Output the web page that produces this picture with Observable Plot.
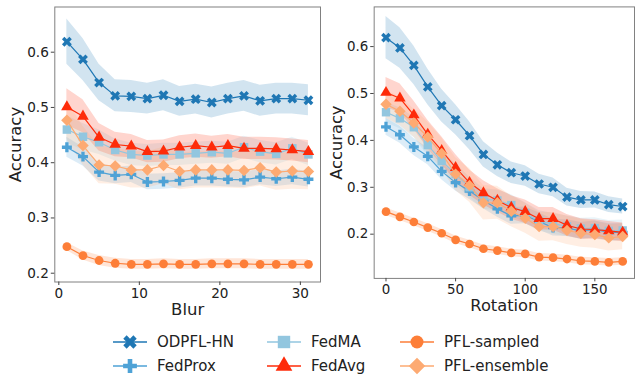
<!DOCTYPE html>
<html><head><meta charset="utf-8">
<script src="https://cdn.jsdelivr.net/npm/d3@7"></script>
<script src="https://cdn.jsdelivr.net/npm/@observablehq/plot@0.6"></script>
<style>
body{margin:0;background:#fff;overflow:hidden;font-family:"DejaVu Sans",sans-serif;}
#wrap{position:relative;width:635px;height:377px;overflow:hidden;background:#fff;}
#left{position:absolute;left:0;top:0;}
#right{position:absolute;left:325px;top:0;}
#legend{position:absolute;left:0;top:320px;width:635px;height:57px;}
.item{position:absolute;height:20px;display:flex;align-items:center;font-size:15px;color:#222;white-space:nowrap;}
.item svg{overflow:visible;}
</style></head><body>
<div id="wrap"><div id="left"></div><div id="right"></div><div id="legend"></div></div>
<script>
// ---------- data ----------
const series = ["ODPFL-HN", "FedProx", "FedMA", "FedAvg", "PFL-sampled", "PFL-ensemble"];
const colors = ["#1f77b4", "#4ea2d6", "#92c6df", "#fe2b09", "#fd7e38", "#fdaa72"];

const blurX = [1, 3, 5, 7, 9, 11, 13, 15, 17, 19, 21, 23, 25, 27, 29, 31];
const blurODPFL    = [0.619, 0.587, 0.545, 0.521, 0.520, 0.516, 0.522, 0.511, 0.515, 0.509, 0.516, 0.521, 0.512, 0.516, 0.516, 0.513];
const blurFedProx  = [0.428, 0.411, 0.383, 0.377, 0.379, 0.365, 0.366, 0.368, 0.372, 0.372, 0.370, 0.369, 0.374, 0.371, 0.374, 0.370];
const blurFedMA    = [0.460, 0.447, 0.437, 0.423, 0.415, 0.413, 0.415, 0.415, 0.417, 0.419, 0.417, 0.428, 0.420, 0.416, 0.426, 0.415];
const blurFedAvg   = [0.501, 0.484, 0.446, 0.433, 0.430, 0.420, 0.421, 0.428, 0.431, 0.428, 0.431, 0.426, 0.426, 0.425, 0.423, 0.420];
const blurSampled  = [0.248, 0.232, 0.223, 0.218, 0.216, 0.216, 0.217, 0.216, 0.216, 0.217, 0.217, 0.217, 0.216, 0.216, 0.216, 0.216];
const blurEnsemble = [0.477, 0.431, 0.396, 0.394, 0.387, 0.387, 0.395, 0.384, 0.387, 0.387, 0.387, 0.386, 0.391, 0.383, 0.385, 0.384];

const blurODPFLStd    = [0.041, 0.038, 0.033, 0.029, 0.029, 0.028, 0.028, 0.027, 0.027, 0.028, 0.028, 0.028, 0.028, 0.028, 0.028, 0.028];
const blurFedProxStd  = [0.018, 0.017, 0.016, 0.015, 0.015, 0.014, 0.014, 0.014, 0.014, 0.014, 0.014, 0.014, 0.014, 0.014, 0.014, 0.014];
const blurFedMAStd    = [0.025, 0.024, 0.022, 0.020, 0.020, 0.020, 0.020, 0.020, 0.020, 0.020, 0.020, 0.020, 0.020, 0.020, 0.020, 0.020];
const blurFedAvgStd   = [0.033, 0.030, 0.025, 0.022, 0.021, 0.020, 0.020, 0.021, 0.021, 0.020, 0.020, 0.020, 0.020, 0.020, 0.020, 0.020];
const blurSampledStd  = [0.007, 0.008, 0.009, 0.009, 0.009, 0.009, 0.009, 0.009, 0.009, 0.009, 0.009, 0.009, 0.009, 0.009, 0.009, 0.009];
const blurEnsembleStd = [0.035, 0.035, 0.034, 0.033, 0.033, 0.033, 0.033, 0.033, 0.033, 0.033, 0.033, 0.033, 0.033, 0.033, 0.033, 0.033];

const rotX = [0, 10, 20, 30, 40, 50, 60, 70, 80, 90, 100, 110, 120, 130, 140, 150, 160, 170];
const rotODPFL    = [0.619, 0.597, 0.560, 0.514, 0.474, 0.444, 0.410, 0.370, 0.348, 0.331, 0.324, 0.307, 0.300, 0.279, 0.273, 0.273, 0.263, 0.259];
const rotFedProx  = [0.429, 0.412, 0.386, 0.366, 0.334, 0.310, 0.292, 0.272, 0.254, 0.239, 0.240, 0.227, 0.214, 0.213, 0.207, 0.210, 0.204, 0.204];
const rotFedMA    = [0.460, 0.447, 0.428, 0.390, 0.356, 0.328, 0.300, 0.275, 0.272, 0.262, 0.245, 0.228, 0.222, 0.217, 0.212, 0.213, 0.207, 0.208];
const rotFedAvg   = [0.502, 0.490, 0.454, 0.413, 0.378, 0.342, 0.310, 0.288, 0.272, 0.257, 0.248, 0.233, 0.233, 0.219, 0.211, 0.210, 0.207, 0.204];
const rotSampled  = [0.248, 0.237, 0.226, 0.214, 0.202, 0.188, 0.179, 0.169, 0.165, 0.160, 0.158, 0.151, 0.150, 0.147, 0.143, 0.142, 0.140, 0.142];
const rotEnsemble = [0.477, 0.462, 0.437, 0.407, 0.372, 0.328, 0.304, 0.267, 0.267, 0.249, 0.234, 0.216, 0.216, 0.208, 0.202, 0.199, 0.192, 0.195];

const rotODPFLStd    = [0.045, 0.043, 0.041, 0.038, 0.035, 0.032, 0.030, 0.027, 0.025, 0.023, 0.022, 0.021, 0.020, 0.019, 0.018, 0.017, 0.017, 0.016];
const rotFedProxStd  = [0.018, 0.018, 0.018, 0.018, 0.018, 0.018, 0.018, 0.018, 0.018, 0.018, 0.018, 0.018, 0.018, 0.018, 0.018, 0.018, 0.018, 0.018];
const rotFedMAStd    = [0.022, 0.022, 0.022, 0.022, 0.022, 0.022, 0.022, 0.022, 0.022, 0.022, 0.022, 0.022, 0.022, 0.022, 0.022, 0.022, 0.022, 0.022];
const rotFedAvgStd   = [0.032, 0.031, 0.030, 0.030, 0.030, 0.028, 0.027, 0.026, 0.025, 0.025, 0.025, 0.024, 0.024, 0.023, 0.022, 0.021, 0.020, 0.020];
const rotSampledStd  = [0.008, 0.008, 0.008, 0.008, 0.008, 0.008, 0.008, 0.008, 0.008, 0.008, 0.008, 0.008, 0.008, 0.008, 0.008, 0.008, 0.008, 0.008];
const rotEnsembleStd = [0.030, 0.030, 0.030, 0.032, 0.033, 0.035, 0.036, 0.037, 0.035, 0.033, 0.032, 0.031, 0.030, 0.030, 0.030, 0.029, 0.028, 0.028];

const blurTicks = [0, 10, 20, 30];
const rotTicks = [0, 50, 100, 150];
const yTicks = [0.2, 0.3, 0.4, 0.5, 0.6];

// ---------- styling per series ----------
const markerStyle = {
  "ODPFL-HN":     {symbol: "cross",    rotate: 45, r: 4.4},
  "FedProx":      {symbol: "cross",    rotate: 0,  r: 4.2},
  "FedMA":        {symbol: "square",   rotate: 0,  r: 4.8},
  "FedAvg":       {symbol: "triangle", rotate: 0,  r: 4.3},
  "PFL-sampled":  {symbol: "circle",   rotate: 0,  r: 4.4},
  "PFL-ensemble": {symbol: "square",   rotate: 45, r: 4.6}
};

function buildRows(xs, means, stds) {
  return series.map((s, i) => xs.map((x, j) => ({
    series: s, x, y: means[i][j], lo: means[i][j] - stds[i][j], hi: means[i][j] + stds[i][j]
  })));
}

const blurRows = buildRows(blurX,
  [blurODPFL, blurFedProx, blurFedMA, blurFedAvg, blurSampled, blurEnsemble],
  [blurODPFLStd, blurFedProxStd, blurFedMAStd, blurFedAvgStd, blurSampledStd, blurEnsembleStd]);
const rotRows = buildRows(rotX,
  [rotODPFL, rotFedProx, rotFedMA, rotFedAvg, rotSampled, rotEnsemble],
  [rotODPFLStd, rotFedProxStd, rotFedMAStd, rotFedAvgStd, rotSampledStd, rotEnsembleStd]);

function chart(rows, o) {
  const bands = rows.map((d, i) => Plot.areaY(d, {x: "x", y1: "lo", y2: "hi", fill: colors[i], fillOpacity: 0.2}));
  const lines = rows.flatMap((d, i) => {
    const m = markerStyle[series[i]];
    return [
      Plot.line(d, {x: "x", y: "y", stroke: colors[i], strokeWidth: 1.2}),
      Plot.dot(d, {x: "x", y: "y", fill: colors[i], symbol: m.symbol, rotate: m.rotate, r: m.r})
    ];
  });
  return Plot.plot({
    width: o.width, height: 320,
    marginLeft: o.marginLeft, marginRight: o.marginRight, marginTop: 6.5, marginBottom: 38.5,
    x: {domain: o.xDomain},
    y: {domain: o.yDomain},
    style: {fontFamily: "DejaVu Sans", fontSize: "13.6px", color: "#222", background: "transparent", overflow: "visible"},
    marks: [
      ...bands,
      ...lines,
      Plot.frame({stroke: "#808080", strokeWidth: 1}),
      Plot.axisX({ticks: o.xTicks, tickSize: 3.5, tickPadding: 3, label: null, stroke: "#444", fontSize: 13.6}),
      Plot.axisY({ticks: yTicks, tickSize: 3.5, tickPadding: 2.5, label: null, stroke: "#444", tickFormat: d3.format(".1f"), fontSize: 13.6}),
      Plot.text(["Accuracy"], {frameAnchor: "left", dx: o.yLabelDx, rotate: -90, fontSize: 16.5, fill: "#222", textAnchor: "middle", lineAnchor: "middle"}),
      Plot.text([o.xLabel], {frameAnchor: "bottom", dy: 28, fontSize: 16.5, fill: "#222", textAnchor: "middle", lineAnchor: "middle"})
    ]
  });
}

document.getElementById("left").append(chart(blurRows, {
  width: 325, marginLeft: 54.3, marginRight: 5, xDomain: [-0.5, 32.5], yDomain: [0.1841, 0.6818],
  xTicks: blurTicks, xLabel: "Blur", yLabelDx: -39.3
}));
document.getElementById("right").append(chart(rotRows, {
  width: 314, marginLeft: 49.3, marginRight: 1, xDomain: [-8.5, 178.5], yDomain: [0.1057, 0.6846],
  xTicks: rotTicks, xLabel: "Rotation", yLabelDx: -37.6
}));

// ---------- legend ----------
const legendPos = [
  {x: 113, y: 22}, {x: 113, y: 46},
  {x: 267, y: 22}, {x: 267, y: 46},
  {x: 400, y: 22}, {x: 400, y: 46}
];
const legendR = {"ODPFL-HN": 6.0, "FedProx": 5.8, "FedMA": 7.0, "FedAvg": 6.2, "PFL-sampled": 6.5, "PFL-ensemble": 6.6};
const symMap = {cross: d3.symbolCross, square: d3.symbolSquare, triangle: d3.symbolTriangle, circle: d3.symbolCircle};
const legend = d3.select("#legend");
series.forEach((s, i) => {
  const m = markerStyle[s];
  const item = legend.append("div").attr("class", "item")
    .style("left", legendPos[i].x + "px").style("top", (legendPos[i].y - 10) + "px");
  const svg = item.append("svg").attr("width", 34).attr("height", 20);
  svg.append("line").attr("x1", 0).attr("x2", 34).attr("y1", 10).attr("y2", 10)
    .attr("stroke", colors[i]).attr("stroke-width", 1.6);
  const rr = legendR[s];
  svg.append("path")
    .attr("d", d3.symbol(symMap[m.symbol], Math.PI * rr * rr)())
    .attr("transform", `translate(17,10) rotate(${m.rotate})`)
    .attr("fill", colors[i]);
  item.append("span").style("margin-left", "10px").text(s);
});
</script>
</body></html>
